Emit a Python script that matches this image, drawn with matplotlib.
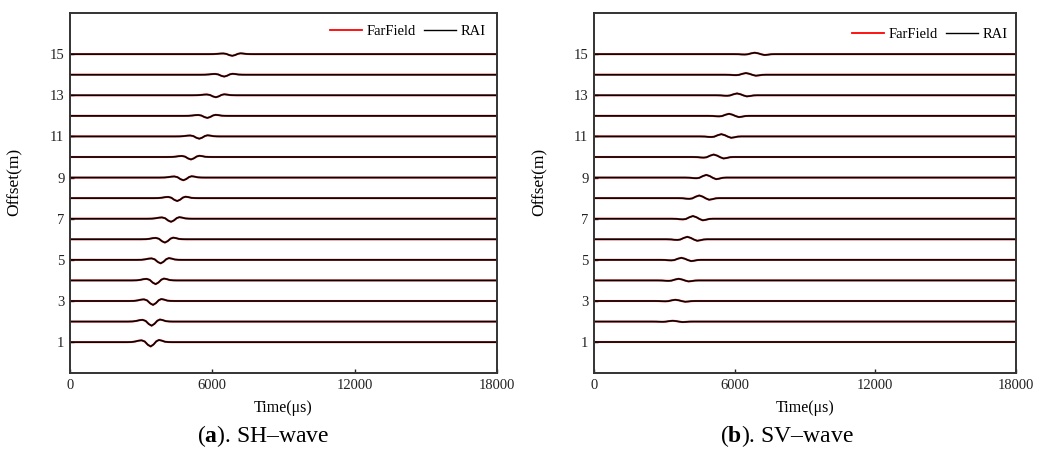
import numpy as np
import matplotlib
matplotlib.use("Agg")
import matplotlib.pyplot as plt
from matplotlib.lines import Line2D

plt.rcParams['font.family'] = ['Liberation Serif', 'DejaVu Serif']
plt.rcParams['mathtext.fontset'] = 'custom'
plt.rcParams['mathtext.rm'] = 'Liberation Serif'
plt.rcParams['mathtext.bf'] = 'Liberation Serif:bold'

# ---- data ----
offsets = [1, 2, 3, 4, 5, 6, 7, 8, 9, 10, 11, 12, 13, 14, 15]

# SH-wave: arrival (trough) times in microseconds and trough amplitudes (offset units)
sh_arrival = [3400, 3440, 3500, 3610, 3820, 4000, 4260, 4520, 4780, 5100, 5450, 5790, 6150, 6500, 6840]
sh_amp = [0.21, 0.20, 0.19, 0.18, 0.17, 0.16, 0.15, 0.14, 0.13, 0.12, 0.11, 0.10, 0.095, 0.09, 0.08]
sh_shape_t = [-1000, -800, -650, -500, -380, -250, -120, 0, 120, 240, 350, 470, 600, 750, 900]
sh_shape_v = [0, 0.03, 0.15, 0.35, 0.42, 0.15, -0.6, -1.0, -0.55, 0.2, 0.5, 0.35, 0.1, 0.02, 0]

# SV-wave: arrival (peak) times and peak amplitudes
sv_arrival = [3300, 3357, 3470, 3610, 3725, 3980, 4220, 4490, 4790, 5105, 5430, 5760, 6100, 6480, 6855]
sv_amp = [0.0, 0.04, 0.06, 0.08, 0.10, 0.12, 0.13, 0.13, 0.13, 0.12, 0.11, 0.10, 0.09, 0.08, 0.07]
sv_shape_t = [-900, -700, -550, -420, -300, -150, 0, 150, 280, 420, 550, 700, 850]
sv_shape_v = [0, -0.05, -0.2, -0.25, -0.1, 0.55, 1.0, 0.55, -0.1, -0.6, -0.4, -0.08, 0]

t_min, t_max = 0, 18000
xticks = [0, 6000, 12000, 18000]
yticks = [1, 3, 5, 7, 9, 11, 13, 15]

fig = plt.figure(figsize=(10.54, 4.5), dpi=100)
W, H = 1054, 450

def make_ax(left, right, top, bottom):
    return fig.add_axes([left / W, 1 - bottom / H, (right - left) / W, (bottom - top) / H])

ax1 = make_ax(70, 497, 13, 373)
ax2 = make_ax(594, 1016, 13, 373)

def draw(ax, arrival, amp, st, sv):
    st = np.asarray(st, float)
    sv = np.asarray(sv, float)
    for off, a, A in zip(offsets, arrival, amp):
        x = np.concatenate([[t_min], a + st, [t_max]])
        y = off + np.concatenate([[0], A * sv, [0]])
        ax.plot(x, y, color='#e00000', lw=1.5, solid_capstyle='butt', alpha=0.8)
        ax.plot(x, y, color='black', lw=1.1, solid_capstyle='butt')

draw(ax1, sh_arrival, sh_amp, sh_shape_t, sh_shape_v)
draw(ax2, sv_arrival, sv_amp, sv_shape_t, sv_shape_v)

for ax, anchor, cap, letter in [(ax1, (0.974, 0.948), 0.25, 'a'), (ax2, (0.981, 0.94), 0.747, 'b')]:
    ax.set_xlim(t_min, t_max)
    ax.set_ylim(-0.5, 17)
    ax.set_xticks(xticks)
    ax.set_yticks(yticks)
    ax.tick_params(direction='in', length=3, width=1.0, labelsize=10.5, pad=4, colors='#222222')
    for sp in ax.spines.values():
        sp.set_linewidth(1.4)
        sp.set_color('#333333')
    ax.set_xlabel('Time(μs)', fontsize=11.5, labelpad=6)
    ax.set_ylabel('Offset(m)', fontsize=12.5)
    ax.yaxis.set_label_coords(-0.11, 0.53)
    handles = [Line2D([], [], color='#ff0000', lw=1.3), Line2D([], [], color='black', lw=1.0)]
    ax.legend(handles, ['FarField', 'RAI'], loc='center right', bbox_to_anchor=anchor,
              ncol=2, frameon=False, fontsize=10.5, handlelength=2.2, handletextpad=0.3,
              columnspacing=0.6, borderpad=0, borderaxespad=0)
    fig.text(cap, 1 - 442 / H, '(' + r'$\mathbf{' + letter + '}$' + ')' + '. ' + ('SH' if letter == 'a' else 'SV') + '–wave',
             ha='center', va='baseline', fontsize=17)

fig.savefig('out.png', dpi=100)
